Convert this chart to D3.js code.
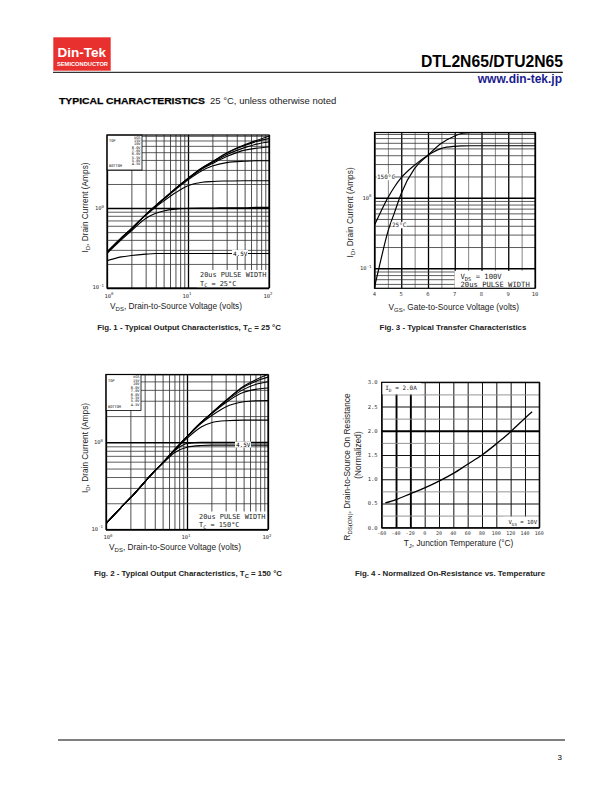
<!DOCTYPE html>
<html><head><meta charset="utf-8">
<script src="https://cdn.jsdelivr.net/npm/d3@7"></script>
<style>
body{margin:0;background:#fff}
svg{display:block;font-family:"Liberation Sans",Arial,sans-serif}
</style></head><body>
<svg id="page" width="612" height="792"></svg>
<script>
// ---- data ----
const gateLevels=["15V","10V","8.0V","7.0V","6.0V","5.5V","5.0V","4.5V"];
const vds=[1,1.5,2,3,4,5,7,10,15,20,30,50,70,100];
// Fig.1  Tc=25C, one row per gate level (top..bottom)
const id25Out=[
  [0.28,0.42,0.55,0.82,1.07,1.30,1.75,2.35,3.20,3.80,4.90,6.20,7.00,7.90],
  [0.28,0.42,0.55,0.82,1.07,1.30,1.75,2.35,3.20,3.80,4.85,6.05,6.80,7.40],
  [0.28,0.42,0.55,0.82,1.07,1.30,1.75,2.34,3.15,3.70,4.65,5.70,6.30,6.70],
  [0.28,0.42,0.55,0.82,1.07,1.30,1.74,2.32,3.10,3.60,4.40,5.30,5.60,5.80],
  [0.28,0.42,0.55,0.82,1.06,1.29,1.70,2.25,2.95,3.35,3.70,3.85,3.90,3.90],
  [0.28,0.42,0.55,0.81,1.03,1.22,1.55,1.90,2.10,2.15,2.18,2.20,2.20,2.20],
  [0.27,0.40,0.52,0.74,0.86,0.92,0.97,0.99,1.00,1.00,1.01,1.01,1.02,1.02],
  [0.22,0.245,0.255,0.265,0.27,0.27,0.27,0.27,0.27,0.27,0.27,0.27,0.27,0.27]
];
// Fig.2  Tc=150C
const id150Out=[
  [0.117,0.175,0.23,0.35,0.47,0.58,0.82,1.16,1.70,2.15,3.00,4.40,5.20,6.00],
  [0.117,0.175,0.23,0.35,0.47,0.58,0.82,1.16,1.70,2.15,3.00,4.30,5.00,5.60],
  [0.117,0.175,0.23,0.35,0.47,0.58,0.82,1.16,1.70,2.15,2.95,4.05,4.60,4.95],
  [0.117,0.175,0.23,0.35,0.47,0.58,0.82,1.16,1.69,2.12,2.85,3.75,4.05,4.20],
  [0.117,0.175,0.23,0.35,0.47,0.58,0.82,1.15,1.65,2.02,2.55,2.92,3.00,3.02],
  [0.117,0.175,0.23,0.35,0.47,0.58,0.81,1.11,1.50,1.68,1.77,1.80,1.80,1.80],
  [0.117,0.175,0.23,0.35,0.47,0.58,0.80,0.97,1.00,1.00,1.00,1.00,1.00,1.00],
  [0.117,0.175,0.23,0.35,0.47,0.57,0.76,0.88,0.92,0.93,0.93,0.93,0.93,0.93]
];
// Fig.3 transfer
const vgs=[4,4.25,4.5,4.75,5,5.5,6,6.5,7,7.3,7.6,8,9,10];
const idT25=[0.054,0.138,0.33,0.62,1.15,2.6,4.0,5.9,7.5,8.2,8.35,8.35,8.35,8.35];
const idT150=[0.41,0.65,1.0,1.43,1.92,2.9,4.0,5.0,5.35,5.42,5.45,5.45,5.45,5.45];
const vgsTicks=[4,5,6,7,8,9,10];
// Fig.4 on-resistance
const tj=[-55,-40,-20,0,20,40,60,80,100,120,140,150];
const rdsNorm=[0.51,0.58,0.70,0.82,0.96,1.12,1.31,1.50,1.73,1.98,2.26,2.39];
const tjTicks=[-60,-40,-20,0,20,40,60,80,100,120,140,160];
const rdsTicks=[0,0.5,1,1.5,2,2.5,3];

const mono='"DejaVu Sans Mono",monospace';
const svg=d3.select("#page");

// ---- header ----
svg.append("rect").attr("x",53.3).attr("y",37.3).attr("width",57.4).attr("height",33.4).attr("fill","#e8302e");
svg.append("text").attr("x",57.5).attr("y",56.5).attr("fill","#fff").attr("font-weight","bold")
  .attr("font-size",13.5).text("Din-Tek");
svg.append("text").attr("x",57).attr("y",66).attr("fill","#fff").attr("font-weight","bold")
  .attr("font-size",5.8).attr("textLength",51).attr("lengthAdjust","spacingAndGlyphs").text("SEMICONDUCTOR");
svg.append("line").attr("x1",53).attr("x2",563).attr("y1",72.3).attr("y2",72.3).attr("stroke","#000").attr("stroke-width",1);
svg.append("text").attr("x",563).attr("y",67).attr("text-anchor","end").attr("font-weight","bold")
  .attr("font-size",15.7).text("DTL2N65/DTU2N65");
svg.append("text").attr("x",562).attr("y",82.5).attr("text-anchor","end").attr("font-weight","bold")
  .attr("font-size",12).attr("fill","#1b1b8f").text("www.din-tek.jp");
svg.append("text").attr("x",59).attr("y",104).attr("font-weight","bold").attr("font-size",9.8)
  .attr("stroke","#000").attr("stroke-width",0.25)
  .attr("textLength",146).attr("lengthAdjust","spacingAndGlyphs").text("TYPICAL CHARACTERISTICS");
svg.append("text").attr("x",210).attr("y",104).attr("font-size",9.5).attr("fill","#222").text("25 °C, unless otherwise noted");

// footer
svg.append("line").attr("x1",58).attr("x2",565).attr("y1",740).attr("y2",740).attr("stroke","#000").attr("stroke-width",1);
svg.append("text").attr("x",562).attr("y",760).attr("text-anchor","end").attr("font-size",8).text("3");

// ---- helpers ----
function logSteps(lo,hi){
  const v=[];
  for(let e=-2;e<=2;e++)for(let m=1;m<10;m++){const t=m*Math.pow(10,e);if(t>=lo*0.999&&t<=hi*1.001)v.push(t);}
  return v;
}
const isDecade=d=>Math.abs(Math.log10(d)-Math.round(Math.log10(d)))<1e-6;

function panel(b){
  const g=svg.append("g").attr("transform",`translate(${b.x},${b.y})`);
  const id="clip"+Math.round(b.x)+Math.round(b.y);
  g.append("clipPath").attr("id",id).append("rect").attr("width",b.w).attr("height",b.h);
  g.clip="url(#"+id+")";
  return g;
}
function grid(g,x,y,b,xv,yv,xs,ys){
  g.append("g").attr("transform",`translate(0,${b.h})`)
    .call(d3.axisBottom(x).tickValues(xv).tickSize(-b.h).tickFormat(""))
    .call(a=>a.select(".domain").remove())
    .selectAll("line").attr("stroke",d=>xs(d)[0]).attr("stroke-width",d=>xs(d)[1]);
  g.append("g")
    .call(d3.axisLeft(y).tickValues(yv).tickSize(-b.w).tickFormat(""))
    .call(a=>a.select(".domain").remove())
    .selectAll("line").attr("stroke",d=>ys(d)[0]).attr("stroke-width",d=>ys(d)[1]);
}
function border(g,b){
  g.append("rect").attr("width",b.w).attr("height",b.h).attr("fill","none").attr("stroke","#000").attr("stroke-width",1.2);
}
function whiteBox(g,x0,y0,w,h){
  g.append("rect").attr("x",x0).attr("y",y0).attr("width",w).attr("height",h).attr("fill","#fff");
}
function pow10(g,x,y,e,anchor){
  const t=g.append("text").attr("x",x).attr("y",y).attr("text-anchor",anchor)
    .attr("font-size",5.5).attr("font-family",mono).attr("fill","#333");
  t.append("tspan").text("10");
  t.append("tspan").attr("dy",-2.3).attr("font-size",4).text(e);
}
function monoText(g,x,y,size,parts){
  const t=g.append("text").attr("x",x).attr("y",y).attr("font-family",mono).attr("font-size",size).attr("fill","#222");
  parts.forEach(p=>{
    const s=t.append("tspan").text(p.t);
    if(p.sub){s.attr("font-size",size*0.75).attr("dy",1.5);}
    if(p.back){s.attr("dy",-1.5);}
  });
  return t;
}
function title(parent,x,y,parts,rot,size){
  const t=parent.append("text").attr("text-anchor","middle").attr("font-size",size||8.3).attr("fill","#222")
    .attr("transform",`translate(${x},${y})`+(rot?" rotate(-90)":""));
  parts.forEach(p=>{
    const s=t.append("tspan").text(p.t);
    if(p.sub){s.attr("font-size",(size||8.3)*0.72).attr("dy",2);}
    if(p.back){s.attr("dy",-2);}
  });
}
function legendBox(g,b){
  whiteBox(g,0,0,35,b);
  g.append("rect").attr("width",35).attr("height",b).attr("fill","none").attr("stroke","#000").attr("stroke-width",0.8);
  const f=3.6;
  g.append("text").attr("x",2).attr("y",7).attr("font-family",mono).attr("font-size",f).text("TOP");
  g.append("text").attr("x",2).attr("y",b-3).attr("font-family",mono).attr("font-size",f).text("BOTTOM");
  const rows=["VGS"].concat(gateLevels);
  rows.forEach((r,i)=>g.append("text").attr("x",33.5).attr("y",3.8+i*(b-5)/rows.length)
    .attr("text-anchor","end").attr("font-family",mono).attr("font-size",f).text(r));
}
const logStyleX=d=>isDecade(d)?["#000",1.3]:["#222",0.8];
const logStyleY=d=>isDecade(d)?["#000",1.5]:["#333",0.8];

// ---- output characteristics (Fig.1 / Fig.2) ----
function outputChart(b,yMax,data,tc,labelX){
  const g=panel(b);
  const x=d3.scaleLog().domain([1,100]).range([0,b.w]);
  const y=d3.scaleLog().domain([0.1,yMax]).range([b.h,0]);
  grid(g,x,y,b,logSteps(1,100),logSteps(0.1,yMax),logStyleX,logStyleY);
  whiteBox(g,b.w-72,b.h-18,72,18);
  const line=d3.line().x((d,i)=>x(vds[i])).y(d=>y(d)).curve(d3.curveMonotoneX);
  g.append("g").attr("clip-path",g.clip).selectAll("path").data(data).join("path")
    .attr("d",line).attr("fill","none").attr("stroke","#000").attr("stroke-width",1.1);
  // 4.5V label on its curve
  const yl=y(data[7][13]);
  whiteBox(g,labelX-1,yl-3.5,16,6);
  g.append("text").attr("x",labelX).attr("y",yl+2).attr("font-family",mono).attr("font-size",6).text("4.5V");
  legendBox(g.append("g"),tc==="25"?35:36);
  monoText(g,b.w-69,b.h-11,6.9,[{t:"20us PULSE WIDTH"}]);
  monoText(g,b.w-69,b.h-2.5,6.9,[{t:"T"},{t:"C",sub:true},{t:" = "+tc+"°C",back:true}]);
  border(g,b);
  // tick labels
  pow10(svg,b.x-3,b.y+y(1)+2,"0","end");
  pow10(svg,b.x-3,b.y+b.h+1,"-1","end");
  [1,10,100].forEach((v,i)=>pow10(svg,b.x+x(v)+(i===0?2:-1),b.y+b.h+9.5,String(i),"middle"));
  title(svg,b.x+b.w/2-12,b.y+b.h+20.5,[{t:"V"},{t:"DS",sub:true},{t:", Drain-to-Source Voltage (volts)",back:true}]);
  title(svg,88,b.y+b.h/2-4,[{t:"I"},{t:"D",sub:true},{t:", Drain Current (Amps)",back:true}],true);
}
outputChart({x:107,y:135,w:162,h:153},8.2,id25Out,"25",126);
outputChart({x:106,y:374.5,w:162,h:155},6.0,id150Out,"150",130);

// ---- Fig.3 transfer ----
(function(){
  const b={x:374.5,y:132.5,w:160.5,h:155.8};
  const g=panel(b);
  const x=d3.scaleLinear().domain([4,10]).range([0,b.w]);
  const y=d3.scaleLog().domain([0.052,8.4]).range([b.h,0]);
  const xv=d3.range(4,10.01,0.5);
  grid(g,x,y,b,xv,logSteps(0.06,8),d=>d%1===0?["#000",1.3]:["#777",0.9],logStyleY);
  whiteBox(g,80,b.h-17.5,b.w-80,17.5);
  const line=d3.line().x((d,i)=>x(vgs[i])).y(d=>y(d)).curve(d3.curveMonotoneX);
  g.append("g").attr("clip-path",g.clip).selectAll("path").data([idT25,idT150]).join("path")
    .attr("d",line).attr("fill","none").attr("stroke","#000").attr("stroke-width",1.2);
  whiteBox(g,2,y(1.92)-4,17,6.5);
  monoText(g,2.5,y(1.92)+1.5,6,[{t:"150°C"}]);
  whiteBox(g,17,y(0.4)-4,15,6.5);
  monoText(g,17.5,y(0.4)+1.5,6,[{t:"25°C"}]);
  monoText(g,86,b.h-9.3,7.2,[{t:"V"},{t:"DS",sub:true},{t:" = 100V",back:true}]);
  monoText(g,86,b.h-1.2,7.2,[{t:"20us PULSE WIDTH"}]);
  border(g,b);
  vgsTicks.forEach(v=>svg.append("text").attr("x",b.x+x(v)).attr("y",b.y+b.h+7.5).attr("text-anchor","middle")
    .attr("font-family",mono).attr("font-size",5.5).attr("fill","#333").text(v));
  pow10(svg,b.x-3,b.y+y(1)+2,"0","end");
  pow10(svg,b.x-3,b.y+y(0.1)+2,"-1","end");
  title(svg,b.x+b.w/2-1,b.y+b.h+21.5,[{t:"V"},{t:"GS",sub:true},{t:", Gate-to-Source Voltage (volts)",back:true}]);
  title(svg,353,b.y+b.h/2+2,[{t:"I"},{t:"D",sub:true},{t:", Drain Current (Amps)",back:true}],true);
})();

// ---- Fig.4 on-resistance ----
(function(){
  const b={x:381.7,y:382.3,w:157.6,h:145.4};
  const g=panel(b);
  const x=d3.scaleLinear().domain([-60,160]).range([0,b.w]);
  const y=d3.scaleLinear().domain([0,3]).range([b.h,0]);
  grid(g,x,y,b,tjTicks,d3.range(0,3.01,0.25),
    d=>(d===-40||d===-20)?["#000",1.9]:["#111",1.0],
    d=>d===2?["#000",1.9]:(d%0.5===0?["#111",1.1]:["#888",0.9]));
  whiteBox(g,0,0,x(-60+55),12);
  whiteBox(g,x(110),b.h-11,b.w-x(110),11);
  const line=d3.line().x((d,i)=>x(tj[i])).y(d=>y(d)).curve(d3.curveMonotoneX);
  g.append("path").datum(rdsNorm).attr("d",line).attr("fill","none").attr("stroke","#000").attr("stroke-width",1.3);
  monoText(g,3.5,8,6,[{t:"I"},{t:"D",sub:true},{t:" = 2.0A",back:true}]);
  monoText(g,x(110)+5,b.h-3.5,5.6,[{t:"V"},{t:"GS",sub:true},{t:" = 10V",back:true}]);
  border(g,b);
  rdsTicks.forEach(v=>svg.append("text").attr("x",b.x-4).attr("y",b.y+y(v)+2).attr("text-anchor","end")
    .attr("font-family",mono).attr("font-size",5.5).attr("fill","#333").text(v.toFixed(1)));
  tjTicks.forEach(v=>svg.append("text").attr("x",b.x+x(v)).attr("y",b.y+b.h+7.5).attr("text-anchor","middle")
    .attr("font-family",mono).attr("font-size",5).attr("fill","#333").text(v));
  title(svg,b.x+b.w/2-2,b.y+b.h+18.5,[{t:"T"},{t:"J",sub:true},{t:", Junction Temperature (°C)",back:true}]);
  title(svg,350,467,[{t:"R"},{t:"DS(ON)",sub:true},{t:", Drain-to-Source On Resistance",back:true}],true);
  title(svg,361,455,[{t:"(Normalized)"}],true);
})();

// ---- captions ----
function caption(x,y,parts){
  const t=svg.append("text").attr("x",x).attr("y",y).attr("text-anchor","middle").attr("font-weight","bold")
    .attr("font-size",7.9).attr("fill","#222");
  parts.forEach(p=>{
    const s=t.append("tspan").text(p.t);
    if(p.sub){s.attr("font-size",5.8).attr("dy",1.5);}
    if(p.back){s.attr("dy",-1.5);}
  });
}
caption(189,330,[{t:"Fig. 1 - Typical Output Characteristics, T"},{t:"C",sub:true},{t:" = 25 °C",back:true}]);
caption(453,330,[{t:"Fig. 3 - Typical Transfer Characteristics"}]);
caption(188,576,[{t:"Fig. 2 - Typical Output Characteristics, T"},{t:"C",sub:true},{t:" = 150 °C",back:true}]);
caption(450,576,[{t:"Fig. 4 - Normalized On-Resistance vs. Temperature"}]);
</script>
</body></html>
